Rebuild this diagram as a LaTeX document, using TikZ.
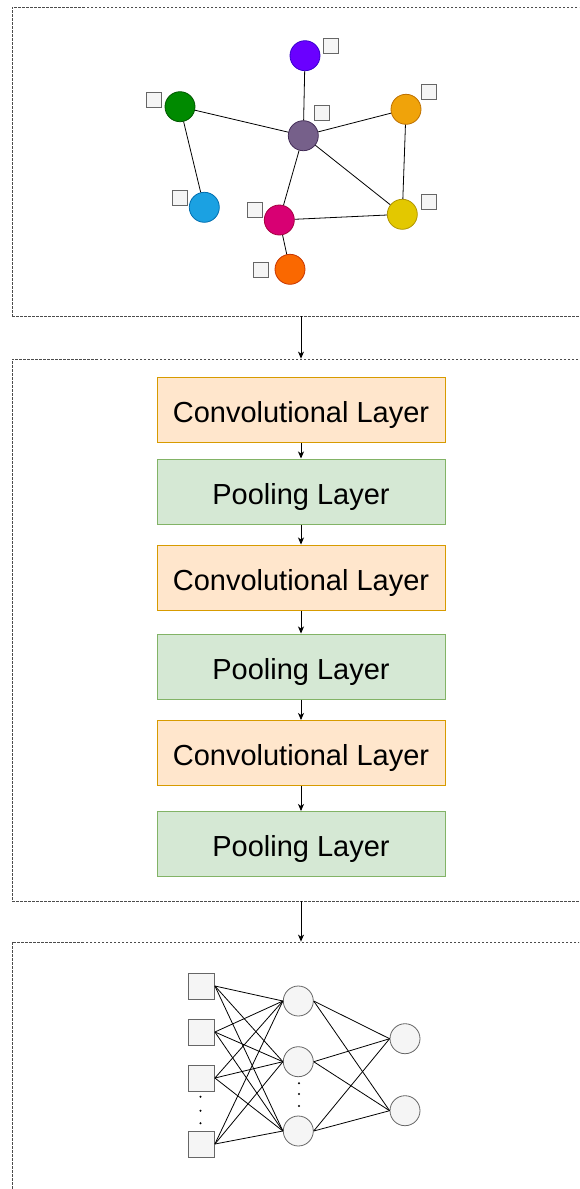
\documentclass[tikz,border=0pt]{standalone}
\usepackage{fontspec}
\setmainfont{Liberation Sans}
\usetikzlibrary{positioning, arrows.meta}
\definecolor{convfill}{HTML}{FFE6CC}
\definecolor{convline}{HTML}{D79B00}
\definecolor{poolfill}{HTML}{D5E8D4}
\definecolor{poolline}{HTML}{82B366}
\definecolor{cellfill}{HTML}{F5F5F5}
\definecolor{cellline}{HTML}{666666}
\tikzset{
	container/.style={
		draw=black!70,
		dash pattern=on 2.5pt off 1.5pt,
		line width=0.8pt,
		inner sep=0pt,
	},
	convlayer/.style={
		draw=convline,
		fill=convfill,
		line width=1pt,
		minimum width=288pt,
		minimum height=65pt,
		text height=27.5pt,
		text depth=2pt,
		font={\fontsize{29}{34}\selectfont},
	},
	poollayer/.style={
		convlayer,
		draw=poolline,
		fill=poolfill,
	},
	vertex/.style={
		circle,
		inner sep=0pt,
		minimum size=30pt,
		line width=0.8pt,
	},
	feat/.style={
		draw=cellline,
		fill=cellfill,
		inner sep=0pt,
		minimum size=15pt,
		line width=0.8pt,
	},
	unit/.style={
		feat,
		minimum size=26pt,
	},
	neuron/.style={
		vertex,
		draw=cellline,
		fill=cellfill,
	},
	link/.style={
		line width=0.8pt,
	},
	flow/.style={
		link,
		-{Stealth[length=7pt, width=6pt, inset=2pt]},
	},
}

\begin{document}
\begin{tikzpicture}[x=1pt, y=-1pt]
	\useasboundingbox (0,0) rectangle (579,1189);
	\clip (0,0) rectangle (579,1189);

	% three stages
	\node(graphbox)[container, minimum width=600pt, minimum height=309pt] at (312,161.5) {};
	\node(cnnbox)[container, minimum width=600pt, minimum height=542pt] at (312,630) {};
	\node(mlpbox)[container, minimum width=600pt, minimum height=320pt] at (312,1102) {};

	% graph with node features
	\node(v1)[vertex, fill={rgb,255:red,106;green,0;blue,255}, draw={rgb,255:red,55;green,0;blue,204}] at (305,55.7) {};
	\node(v2)[vertex, fill={rgb,255:red,0;green,138;blue,0}, draw={rgb,255:red,0;green,87;blue,0}] at (180,106.7) {};
	\node(v3)[vertex, fill={rgb,255:red,118;green,96;blue,138}, draw={rgb,255:red,67;green,45;blue,87}] at (303.3,135.7) {};
	\node(v4)[vertex, fill={rgb,255:red,240;green,163;blue,10}, draw={rgb,255:red,189;green,112;blue,0}] at (406,109.3) {};
	\node(v5)[vertex, fill={rgb,255:red,27;green,161;blue,226}, draw={rgb,255:red,0;green,110;blue,175}] at (204.3,207.3) {};
	\node(v6)[vertex, fill={rgb,255:red,216;green,0;blue,115}, draw={rgb,255:red,165;green,0;blue,64}] at (279.3,220) {};
	\node(v7)[vertex, fill={rgb,255:red,227;green,200;blue,0}, draw={rgb,255:red,176;green,149;blue,0}] at (402.3,214.3) {};
	\node(v8)[vertex, fill={rgb,255:red,250;green,104;blue,0}, draw={rgb,255:red,199;green,53;blue,0}] at (290,269.3) {};

	\node(f1)[feat] at (330.5,45.8) {};
	\node(f2)[feat] at (154.3,99.7) {};
	\node(f3)[feat] at (322.2,113) {};
	\node(f4)[feat] at (428.8,92.2) {};
	\node(f5)[feat] at (180.2,197.7) {};
	\node(f6)[feat] at (254.7,210.3) {};
	\node(f7)[feat] at (428.8,202.2) {};
	\node(f8)[feat] at (260.7,269.5) {};

	\draw[link] (v3) -- (v1);
	\draw[link] (v3) -- (v2);
	\draw[link] (v3) -- (v4);
	\draw[link] (v3) -- (v6);
	\draw[link] (v3) -- (v7);
	\draw[link] (v2) -- (v5);
	\draw[link] (v4) -- (v7);
	\draw[link] (v6) -- (v7);
	\draw[link] (v6) -- (v8);

	% convolution and pooling stack
	\node(c1)[convlayer] at (301,409.5) {Convolutional Layer};
	\node(p1)[poollayer] at (301,491.5) {Pooling Layer};
	\node(c2)[convlayer] at (301,577.5) {Convolutional Layer};
	\node(p2)[poollayer] at (301,666.5) {Pooling Layer};
	\node(c3)[convlayer] at (301,753) {Convolutional Layer};
	\node(p3)[poollayer] at (301,844) {Pooling Layer};

	\draw[flow] (c1) -- (p1);
	\draw[flow] (p1) -- (c2);
	\draw[flow] (c2) -- (p2);
	\draw[flow] (p2) -- (c3);
	\draw[flow] (c3) -- (p3);

	\draw[flow] (graphbox.south -| c1) -- (cnnbox.north -| c1);
	\draw[flow] (cnnbox.south -| c1) -- (mlpbox.north -| c1);

	% fully connected part
	\node(in1)[unit] at (201.5,986) {};
	\node(in2)[unit] at (201.5,1032) {};
	\node(in3)[unit] at (201.5,1078) {};
	\node(in4)[unit] at (201.5,1144) {};
	\node(h1)[neuron] at (298.3,1001) {};
	\node(h2)[neuron] at (298.3,1061.7) {};
	\node(h3)[neuron] at (298.3,1131) {};
	\node(o1)[neuron] at (405,1038.7) {};
	\node(o2)[neuron] at (405,1110.7) {};

	\foreach \i in {1,...,4}
		\foreach \j in {1,2,3}
			\draw[link] (in\i.east) -- (h\j.west);
	\foreach \j in {1,2,3}
		\foreach \k in {1,2}
			\draw[link] (h\j.east) -- (o\k.west);

	\foreach \y in {1096.7,1110.7,1123.3}
		\fill (200.5,\y) circle (1.1pt);
	\foreach \y in {1083.3,1094,1106}
		\fill (299,\y) circle (1.1pt);
\end{tikzpicture}
\end{document}
